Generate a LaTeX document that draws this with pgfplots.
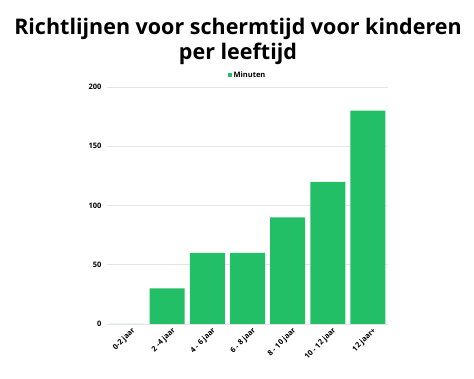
\documentclass[border=0pt]{standalone}
\usepackage{pgfplots}
\pgfplotsset{compat=1.18}
\usepackage{fontspec}
\setmainfont{Open Sans}
\definecolor{bargreen}{RGB}{34,191,103}
\definecolor{gridgray}{RGB}{228,228,228}
\definecolor{basegray}{RGB}{200,200,200}
\begin{document}
\begin{tikzpicture}
\useasboundingbox (0pt,0pt) rectangle (474pt,379pt);
\node[font=\fontsize{21.5}{25}\selectfont\bfseries, align=center] at (238pt,338pt) {Richtlijnen voor schermtijd voor kinderen\\per leeftijd};
\begin{axis}[
  at={(107pt,55pt)}, anchor=south west,
  scale only axis, width=281pt, height=237pt,
  xmin=-0.5, xmax=6.5, ymin=0, ymax=200,
  axis line style={draw=none},
  ybar, bar width=35pt,
  ytick={0,50,100,150,200},
  ymajorgrids, grid style={gridgray, line width=0.8pt},
  xtick=data,
  xticklabels={0-2 jaar, 2 -4 jaar, 4 - 6 jaar, 6 - 8 jaar, 8 - 10 jaar, 10 - 12 jaar, 12 jaar+},
  x tick label style={rotate=45, anchor=north east, font=\fontsize{7.5}{9}\selectfont\bfseries, inner sep=1pt, yshift=-4pt, xshift=2pt},
  y tick label style={font=\fontsize{7.5}{9}\selectfont\bfseries, xshift=-2pt},
  /pgf/number format/assume math mode=true,
  major tick length=0pt,
  legend style={at={(0.5,1)}, anchor=south, yshift=6pt, draw=none, font=\fontsize{7.5}{9}\selectfont\bfseries, inner sep=0pt},
  legend image code/.code={\fill[bargreen] (0pt,-2pt) rectangle (4pt,2pt);},
]
\addplot[fill=bargreen, draw=none] coordinates {(0,0) (1,30) (2,60) (3,60) (4,90) (5,120) (6,180)};
\addlegendentry{Minuten}
\draw[basegray, line width=0.8pt] (rel axis cs:0,0) -- (rel axis cs:1,0);
\end{axis}
\end{tikzpicture}
\end{document}
